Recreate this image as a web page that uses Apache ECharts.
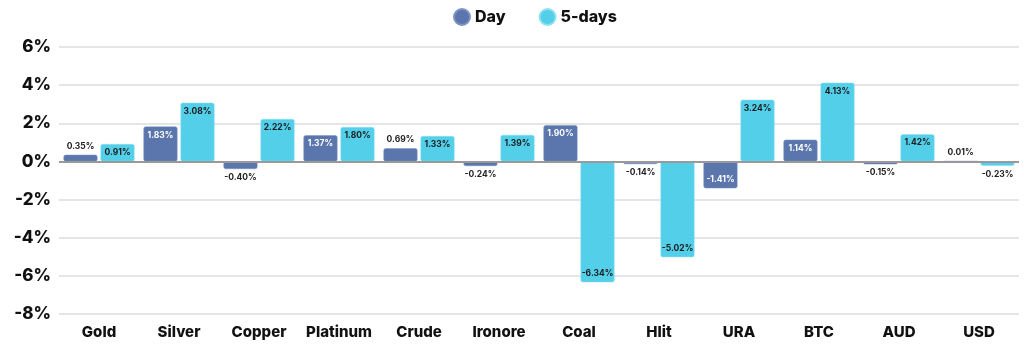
<!DOCTYPE html>
<html>
<head>
<meta charset="utf-8">
<script src="https://cdn.jsdelivr.net/npm/echarts@6/dist/echarts.min.js"></script>
<style>
html,body{margin:0;padding:0;background:#fff;}
#chart{width:1024px;height:350px;}
</style>
</head>
<body>
<div id="chart"></div>
<script>
const categories = ["Gold","Silver","Copper","Platinum","Crude","Ironore","Coal","Hlit","URA","BTC","AUD","USD"];
const dayValues = [0.35, 1.83, -0.40, 1.37, 0.69, -0.24, 1.90, -0.14, -1.41, 1.14, -0.15, 0.01];
const fiveDayValues = [0.91, 3.08, 2.22, 1.80, 1.33, 1.39, -6.34, -5.02, 3.24, 4.13, 1.42, -0.23];
const yTicks = [-8, -6, -4, -2, 0, 2, 4, 6];

const FONT = "Inter";
const DAY_COLOR = "#5a76ad";
const FIVE_COLOR = "#53cfe9";

function buildData(vals, insideColor) {
  return vals.map(v => {
    const big = Math.abs(v) >= 0.8;
    let pos;
    if (v >= 0) pos = big ? 'insideTop' : 'top';
    else pos = big ? 'insideBottom' : 'bottom';
    return {
      value: v,
      label: {
        position: pos,
        color: big ? insideColor : '#222'
      }
    };
  });
}

const chart = echarts.init(document.getElementById('chart'));
chart.setOption({
  animation: false,
  backgroundColor: '#fff',
  legend: {
    top: 3,
    left: 448,
    itemWidth: 16,
    itemHeight: 16,
    itemGap: 33,
    icon: 'circle',
    textStyle: { fontFamily: FONT, fontWeight: 800, fontSize: 16, color: '#111' },
    data: ['Day', '5-days']
  },
  grid: { left: 59, right: 5, top: 47, bottom: 36, containLabel: false },
  xAxis: {
    type: 'category',
    data: categories,
    axisLine: { show: false },
    axisTick: { show: false },
    axisLabel: {
      interval: 0,
      fontFamily: FONT, fontWeight: 800, fontSize: 15, color: '#111',
      margin: 11
    }
  },
  yAxis: {
    type: 'value',
    min: yTicks[0],
    max: yTicks[yTicks.length - 1],
    interval: 2,
    axisLine: { show: false },
    axisTick: { show: false },
    axisLabel: {
      formatter: v => v + '%',
      fontFamily: FONT, fontWeight: 800, fontSize: 17, color: '#111',
      margin: 8
    },
    splitLine: { lineStyle: { color: '#dcdcdc', width: 1.5 } }
  },
  series: [
    {
      name: 'Day',
      type: 'bar',
      data: buildData(dayValues, '#ffffff'),
      barGap: '9%',
      barCategoryGap: '11.25%',
      itemStyle: { color: DAY_COLOR, borderRadius: 2, borderColor: '#7d94c2', borderWidth: 0.5 },
      label: {
        show: true,
        formatter: p => p.value.toFixed(2) + '%',
        fontFamily: FONT, fontWeight: 700, fontSize: 8.5,
        distance: 4
      },
      markLine: {
        silent: true,
        symbol: 'none',
        label: { show: false },
        lineStyle: { color: '#999', width: 2, type: 'solid' },
        data: [{ yAxis: 0 }]
      },
      z: 3
    },
    {
      name: '5-days',
      type: 'bar',
      data: buildData(fiveDayValues, '#1a1a1a'),
      barGap: '9%',
      barCategoryGap: '11.25%',
      itemStyle: { color: FIVE_COLOR, borderRadius: 2, borderColor: '#8fe0f1', borderWidth: 0.5 },
      label: {
        show: true,
        formatter: p => p.value.toFixed(2) + '%',
        fontFamily: FONT, fontWeight: 700, fontSize: 8.5,
        distance: 4
      },
      z: 3
    }
  ]
});
</script>
</body>
</html>
